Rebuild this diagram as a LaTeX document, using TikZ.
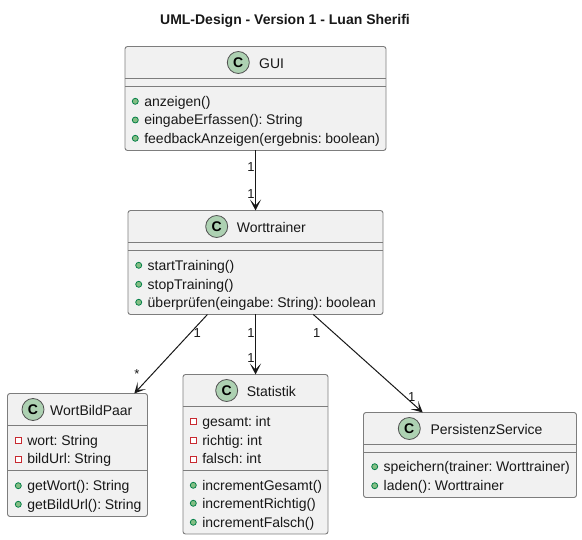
\documentclass[tikz,border=0pt]{standalone}
\usepackage{fontspec}
\setmainfont[WordSpace=0.6]{Liberation Sans}
\newfontfamily\titlefont{Liberation Sans}
\usetikzlibrary{arrows.meta}
\definecolor{boxbg}{RGB}{241,241,241}
\definecolor{ink}{RGB}{24,24,24}
\definecolor{rim}{RGB}{125,125,125}
\definecolor{spotbg}{RGB}{173,209,178}
\definecolor{pubfill}{RGB}{132,190,132}
\definecolor{publine}{RGB}{3,128,72}
\definecolor{privline}{RGB}{200,41,48}
\definecolor{privfill}{RGB}{255,255,255}
\tikzset{
  classbox/.style={draw=rim,fill=boxbg,line width=0.9pt,rounded corners=2.5pt,inner sep=0pt,outer sep=0pt},
  spot/.style={circle,draw=ink!75,fill=spotbg,line width=0.8pt,minimum size=22pt,inner sep=0pt,font=\fontsize{14}{16}\selectfont\bfseries},
  classname/.style={anchor=base west,inner sep=0pt,text=ink,font=\fontsize{14}{16}\selectfont},
  rowtext/.style={anchor=base west,inner sep=0pt,text=ink,font=\fontsize{14}{16}\selectfont},
  pub/.style={circle,draw=publine,fill=pubfill,line width=0.8pt,minimum size=6pt,inner sep=0pt},
  priv/.style={rectangle,draw=privline,fill=privfill,line width=0.8pt,minimum size=6pt,inner sep=0pt},
  hasa/.style={-{Stealth[length=11pt,width=11pt,inset=6pt]},draw=ink,line width=1pt},
  mult/.style={inner sep=0pt,text=ink,font=\fontsize{13}{15}\selectfont},
}
\begin{document}
\begin{tikzpicture}[x=1pt,y=-1pt]
  \useasboundingbox (0,0) rectangle (582,540);
  \node[text=ink,font=\titlefont\fontsize{14}{16}\selectfont\bfseries,inner sep=0pt,anchor=base] (title) at (285,25) {UML-Design - Version 1 - Luan Sherifi};
  % class boxes
  \foreach \nm/\xa/\xb/\ya/\yb/\la/\lb/\cx/\lx/\ttl in {%
     gui/125/386/46.5/150.5/78.5/86.5/238.3/259/GUI,
     trainer/128/383/210.5/314.5/242.5/250.5/216.7/236.7/Worttrainer,
     paar/7.5/147.5/393.5/516.5/425.5/470.5/33/50/WortBildPaar,
     stat/183/328/374.5/534/406.5/470.5/226.7/246.7/Statistik,
     service/363.5/576.5/412.5/497.5/444.5/452.5/409.3/430.3/PersistenzService}{
     \pgfmathsetmacro{\bw}{\xb-\xa}
     \pgfmathsetmacro{\bh}{\yb-\ya}
     \pgfmathsetmacro{\xm}{(\xa+\xb)/2}
     \pgfmathsetmacro{\ym}{(\ya+\yb)/2}
     \pgfmathsetmacro{\yc}{(\ya+\la)/2}
     \node[classbox,minimum width=\bw pt,minimum height=\bh pt] (\nm) at (\xm,\ym) {};
     \draw[draw=rim,line width=0.9pt] (\xa,\la) -- (\xb,\la);
     \draw[draw=rim,line width=0.9pt] (\xa,\lb) -- (\xb,\lb);
     \node[spot] (\nm spot) at (\cx,\yc) {C};
     \node[classname] (\nm name) at (\lx,\yc+5.6) {\ttl};
  }
  % members
  \foreach \id/\kind/\mx/\my/\txt in {%
     a/pub/135.3/101.3/anzeigen(),
     b/pub/135.3/120/eingabeErfassen(): String,
     c/pub/135.3/138.3/feedbackAnzeigen(ergebnis: boolean),
     d/pub/138.7/265.3/startTraining(),
     e/pub/138.7/284.3/stopTraining(),
     f/pub/138.7/302.3/überprüfen(eingabe: String): boolean,
     g/priv/18.3/440.3/wort: String,
     h/priv/18.3/459/bildUrl: String,
     i/pub/18.3/485.7/getWort(): String,
     j/pub/18.3/504.3/getBildUrl(): String,
     k/priv/193.3/421.3/gesamt: int,
     l/priv/193.3/440.3/richtig: int,
     m/priv/193.3/459/falsch: int,
     n/pub/193.3/485.3/incrementGesamt(),
     o/pub/193.3/503.3/incrementRichtig(),
     p/pub/193.3/522.3/incrementFalsch(),
     q/pub/374.7/466.7/speichern(trainer: Worttrainer),
     r/pub/374.7/485.7/laden(): Worttrainer}{
     \node[\kind] (mark\id) at (\mx,\my) {};
     \node[rowtext] (row\id) at (\mx+8.8,\my+5) {\txt};
  }
  % associations
  \draw[hasa] (gui) -- (trainer);
  \draw[hasa] (trainer) -- (paar);
  \draw[hasa] (trainer) -- (stat);
  \draw[hasa] (trainer) -- (service);
  \foreach \id/\lx/\ly/\txt in {%
     ma/251/167.3/1,
     mb/251/194.3/1,
     mc/197.3/332.7/1,
     md/137/374.3/*,
     me/251/332.7/1,
     mf/251/358.3/1,
     mg/316.7/332.7/1,
     mh/411.7/396.7/1}{
     \node[mult] (\id) at (\lx,\ly) {\txt};
  }
\end{tikzpicture}
\end{document}
